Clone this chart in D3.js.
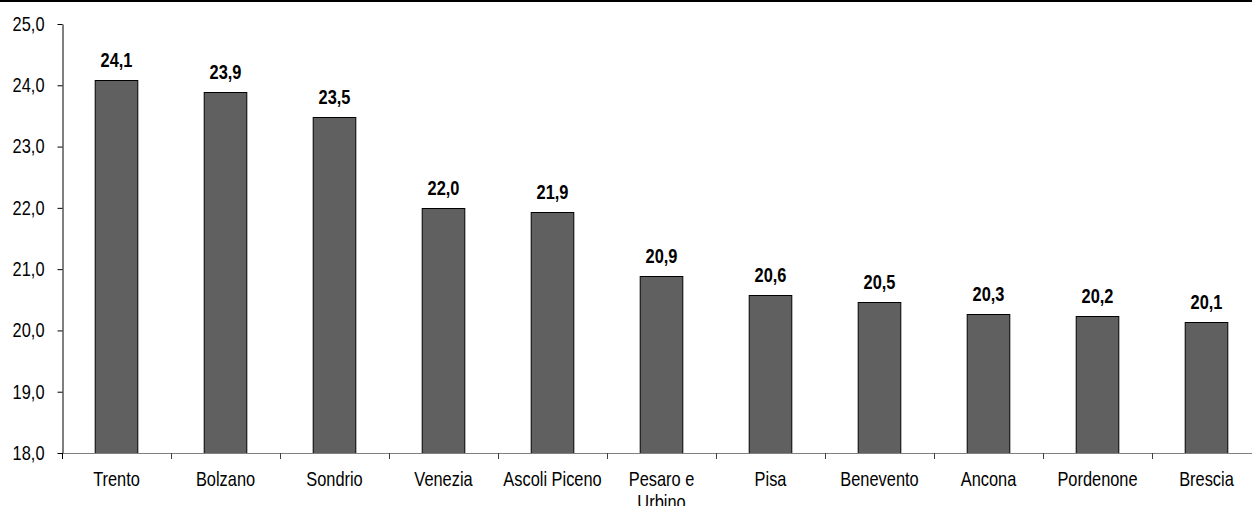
<!DOCTYPE html>
<html>
<head>
<meta charset="utf-8">
<script src="https://cdn.jsdelivr.net/npm/d3@7"></script>
<style>
  html, body { margin: 0; padding: 0; background: #fff; }
  svg { display: block; font-family: "Liberation Sans", Arial, sans-serif; }
</style>
</head>
<body>
<svg id="chart" width="1252" height="506"></svg>
<script>
// Province names and their values
const categories = ["Trento", "Bolzano", "Sondrio", "Venezia", "Ascoli Piceno", "Pesaro e Urbino",
  "Pisa", "Benevento", "Ancona", "Pordenone", "Brescia"];
const values = [24.08, 23.89, 23.49, 21.99, 21.94, 20.89, 20.58, 20.47, 20.26, 20.24, 20.13];
const yTicks = [18, 19, 20, 21, 22, 23, 24, 25];
// Labels that wrap onto two lines
const wrapped = { "Pesaro e Urbino": ["Pesaro e", "Urbino"] };

const svg = d3.select("#chart");
const W = 1252, H = 506;
const plotLeft = 62, plotTop = 24, plotBottom = 453, plotRight = 1261;
const fontSize = 20;
const narrow = 0.82; // horizontal squeeze for a condensed face

const fmt = v => d3.format(".1f")(v).replace(".", ",");

const x = d3.scaleBand()
  .domain(categories)
  .range([plotLeft, plotRight])
  .paddingInner(0.6)
  .paddingOuter(0.3);

const y = d3.scaleLinear().domain([18, 25]).range([plotBottom, plotTop]);

// frame line across the top
svg.append("line")
  .attr("x1", 0).attr("x2", W).attr("y1", 1).attr("y2", 1)
  .attr("stroke", "#000").attr("stroke-width", 2);

// bars
svg.append("g").selectAll("rect")
  .data(categories)
  .join("rect")
  .attr("x", d => x(d) + 0.5)
  .attr("y", (d, i) => Math.round(y(values[i])) + 0.5)
  .attr("width", x.bandwidth() - 1)
  .attr("height", (d, i) => plotBottom - Math.round(y(values[i])))
  .attr("fill", "#606060")
  .attr("stroke", "#000")
  .attr("stroke-width", 1);

// value labels
svg.append("g").selectAll("text")
  .data(categories)
  .join("text")
  .attr("transform", (d, i) =>
    `translate(${x(d) + x.bandwidth() / 2},${y(values[i]) - 13}) scale(${narrow},1)`)
  .attr("text-anchor", "middle")
  .attr("font-size", fontSize)
  .attr("font-weight", "bold")
  .attr("fill", "#000")
  .text((d, i) => fmt(values[i]));

// y axis
const yAxis = d3.axisLeft(y)
  .tickValues(yTicks)
  .tickFormat(fmt)
  .tickSize(5)
  .tickSizeOuter(0)
  .tickPadding(13);
const gy = svg.append("g")
  .attr("transform", `translate(${plotLeft + 0.5},0)`)
  .call(yAxis)
  .attr("font-family", null)
  .attr("font-size", null);
gy.select(".domain").attr("stroke", "#000");
gy.selectAll(".tick line").attr("stroke", "#000");
gy.selectAll(".tick text")
  .attr("font-size", fontSize)
  .attr("x", -18 / narrow)
  .attr("transform", `scale(${narrow},1)`)
  .attr("fill", "#000");

// x baseline
svg.append("line")
  .attr("x1", plotLeft).attr("x2", W)
  .attr("y1", plotBottom + 0.5).attr("y2", plotBottom + 0.5)
  .attr("stroke", "#808080").attr("stroke-width", 1);

// tick marks between categories
const step = x.step();
const bounds = [plotLeft].concat(categories.map(d => x(d) + x.bandwidth() + (step - x.bandwidth()) / 2));
svg.append("g").selectAll("line")
  .data(bounds)
  .join("line")
  .attr("x1", d => Math.round(d) + 0.5).attr("x2", d => Math.round(d) + 0.5)
  .attr("y1", plotBottom).attr("y2", plotBottom + 6)
  .attr("stroke", (d, i) => i === 0 ? "#000" : "#404040");

// category labels
const xl = svg.append("g").selectAll("text")
  .data(categories)
  .join("text")
  .attr("transform", d => `translate(${x(d) + x.bandwidth() / 2},486) scale(${narrow},1)`)
  .attr("text-anchor", "middle")
  .attr("font-size", fontSize)
  .attr("fill", "#000");
xl.each(function(d) {
  const lines = wrapped[d] || [d];
  const t = d3.select(this);
  lines.forEach((ln, k) => {
    t.append("tspan")
      .attr("x", 0)
      .attr("dy", k === 0 ? 0 : 23)
      .text(ln);
  });
});
</script>
</body>
</html>
